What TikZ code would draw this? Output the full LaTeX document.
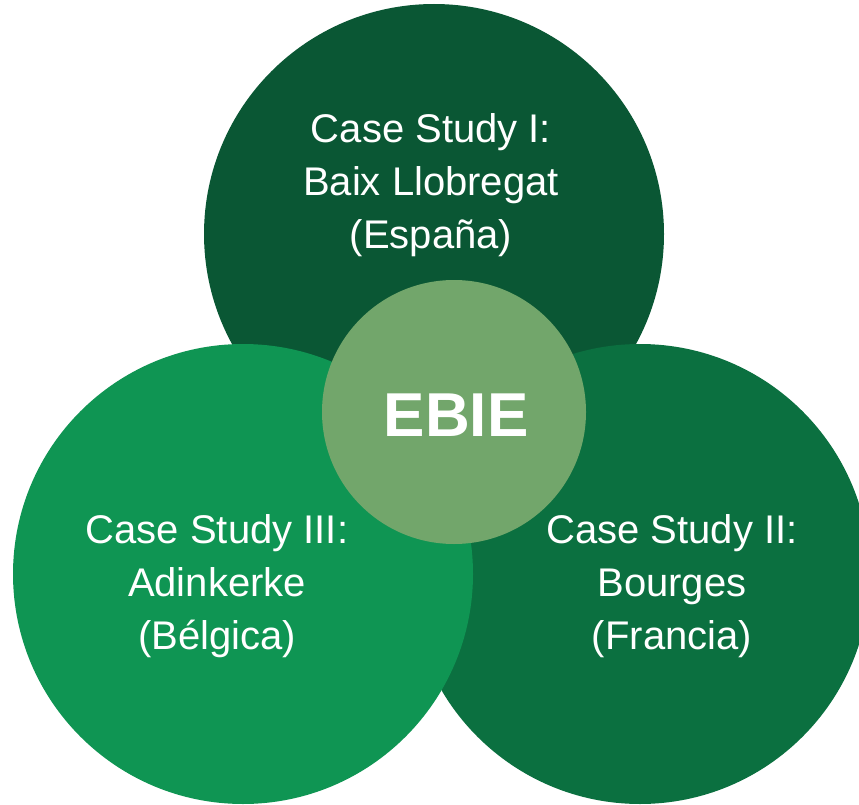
\documentclass[tikz,border=0pt]{standalone}
\usepackage{fontspec}
\setmainfont{Liberation Sans}
\usetikzlibrary{shapes}

\definecolor{topgreen}{HTML}{0A5734}
\definecolor{rightgreen}{HTML}{0B7040}
\definecolor{leftgreen}{HTML}{0F9553}
\definecolor{hubgreen}{HTML}{72A66B}

\begin{document}
\begin{tikzpicture}[x=1pt, y=-1pt]
        % Define block styles
        \tikzstyle{study} = [circle, inner sep=0pt, minimum size=460pt]
        \tikzstyle{hub} = [circle, fill=hubgreen, inner sep=0pt, minimum size=264pt]
        \tikzstyle{casetext} = [text=white, align=center,
            font=\fontsize{40}{53}\selectfont]

        \clip (0,0) rectangle (859,805);

        % Circles
        \node [study, fill=topgreen] (baix) at (434,234) {};
        \node [study, fill=rightgreen] (bourges) at (640,574) {};
        \node [study, fill=leftgreen] (adinkerke) at (243,574) {};
        \node [hub] (ebie) at (454,412) {};

        % Texts
        \node [casetext] (baixtext) at (431,185) {Case Study I:\\Baix Llobregat\\(España)};
        \node [casetext] (bourgestext) at (672,586) {Case Study II:\\Bourges\\(Francia)};
        \node [casetext] (adinkerketext) at (217,586) {Case Study III:\\Adinkerke\\(Bélgica)};
        \node [text=white, font=\fontsize{62}{70}\selectfont\bfseries] (ebietext) at (456,415) {EBIE};
    \end{tikzpicture}
\end{document}
